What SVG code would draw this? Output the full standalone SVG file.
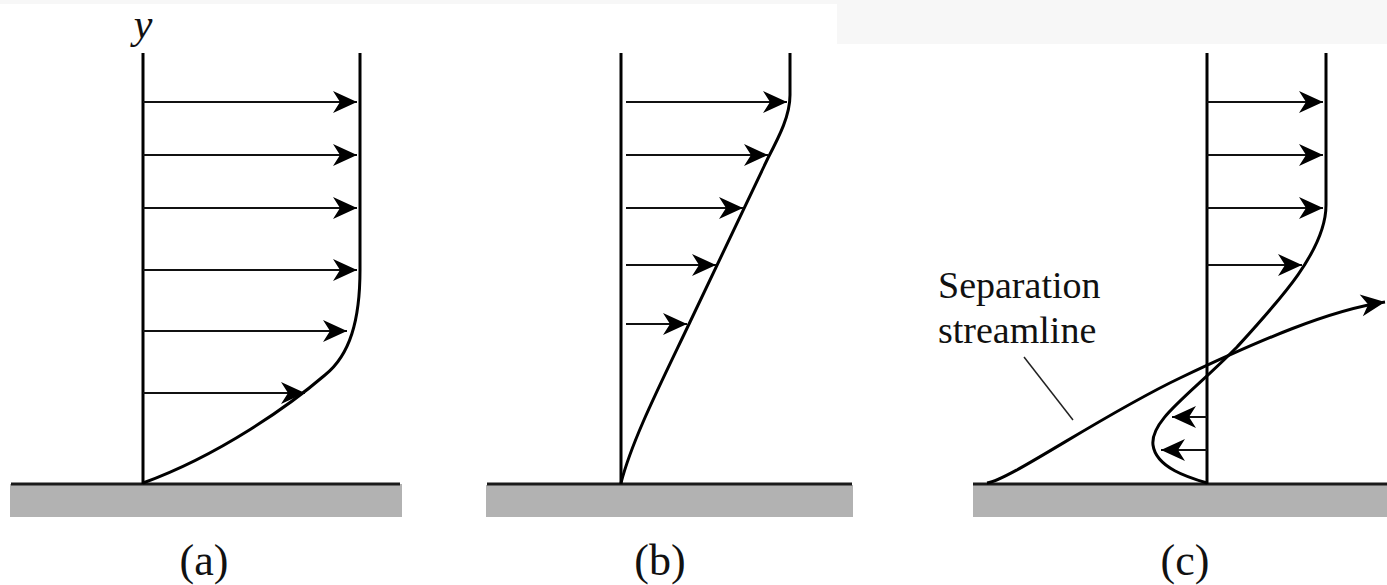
<svg xmlns="http://www.w3.org/2000/svg" width="1387" height="585" viewBox="0 0 1387 585">
<style>
.axis{stroke:#000;stroke-width:3;fill:none}
.prof{stroke:#000;stroke-width:3;fill:none;stroke-linejoin:round}
.arr{stroke:#111;stroke-width:2;fill:none;marker-end:url(#ah)}
.ground{stroke:#1a1a1a;stroke-width:3}
.wall{fill:#b2b2b2}
.lbl{font-family:"Liberation Serif","Times New Roman",serif;fill:#111}
</style>
<defs>
<marker id="ah" markerUnits="userSpaceOnUse" viewBox="-25 -12 26 24" refX="0" refY="0" markerWidth="26" markerHeight="24" orient="auto">
<path d="M0,0 L-24,-11 L-17,0 L-24,11 Z" fill="#000"/>
</marker>
</defs>
<rect x="0" y="0" width="1387" height="4" fill="#f7f7f7"/>
<rect x="837" y="0" width="550" height="44" fill="#f7f7f7"/>

<g id="panel-a">
<rect class="wall" x="10" y="484" width="392" height="33"/>
<line class="ground" x1="11" y1="484" x2="400" y2="484"/>
<line class="axis" x1="143" y1="53" x2="143" y2="484"/>
<path class="prof" d="M360,53 L360,270 C360,320 350,355 325,375 C290,405 220,455 143,483"/>
<text class="lbl" x="143" y="38" font-size="42" font-style="italic" text-anchor="middle">y</text>
<text class="lbl" x="204" y="575" font-size="44" text-anchor="middle">(a)</text>
</g>

<g id="panel-b">
<rect class="wall" x="486" y="485" width="367" height="32"/>
<line class="ground" x1="487" y1="484" x2="852" y2="484"/>
<line class="axis" x1="621" y1="53" x2="621" y2="484"/>
<path class="prof" d="M790,53 L790,95 C790,115 780,135 768,158 L690,322 C660,385 632,440 621,483"/>
<text class="lbl" x="660" y="575" font-size="44" text-anchor="middle">(b)</text>
</g>

<g id="panel-c">
<rect class="wall" x="973" y="485" width="414" height="32"/>
<line class="ground" x1="973" y1="484" x2="1387" y2="484"/>
<line class="axis" x1="1207" y1="53" x2="1207" y2="484"/>
<path class="prof" d="M1326,53 L1326,205 C1326,250 1280,300 1237,347 C1190,395 1150,420 1153,445 C1156,468 1190,478 1207,483"/>
<path class="prof" d="M987,483 C1010,480 1100,416 1180,378 C1260,340 1330,310 1385,302" marker-end="url(#ah)"/>
<line x1="1024" y1="357" x2="1073" y2="420" stroke="#222" stroke-width="1.5"/>
<text class="lbl" x="938" y="298" font-size="38">Separation</text>
<text class="lbl" x="938" y="343" font-size="38">streamline</text>
<text class="lbl" x="1185" y="575" font-size="44" text-anchor="middle">(c)</text>
</g>

<g id="connectors">
<line class="arr" x1="143" y1="102" x2="357" y2="102"/>
<line class="arr" x1="143" y1="155" x2="357" y2="155"/>
<line class="arr" x1="143" y1="208" x2="357" y2="208"/>
<line class="arr" x1="143" y1="270" x2="357" y2="270"/>
<line class="arr" x1="143" y1="331" x2="347" y2="331"/>
<line class="arr" x1="143" y1="393" x2="305" y2="393"/>

<line class="arr" x1="626" y1="102" x2="787" y2="102"/>
<line class="arr" x1="626" y1="155" x2="768" y2="155"/>
<line class="arr" x1="626" y1="208" x2="743" y2="208"/>
<line class="arr" x1="626" y1="265" x2="716" y2="265"/>
<line class="arr" x1="626" y1="324" x2="687" y2="324"/>

<line class="arr" x1="1207" y1="102" x2="1323" y2="102"/>
<line class="arr" x1="1207" y1="155" x2="1323" y2="155"/>
<line class="arr" x1="1207" y1="208" x2="1323" y2="208"/>
<line class="arr" x1="1207" y1="265" x2="1302" y2="265"/>
<line class="arr" x1="1207" y1="417" x2="1172" y2="417"/>
<line class="arr" x1="1207" y1="450" x2="1161" y2="450"/>
</g>
</svg>
